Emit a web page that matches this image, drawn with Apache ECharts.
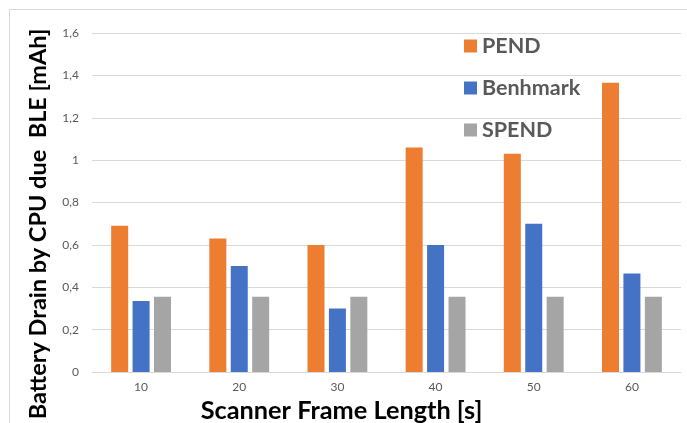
<!DOCTYPE html>
<html>
<head>
<meta charset="utf-8">
<script src="https://cdn.jsdelivr.net/npm/echarts@6/dist/echarts.min.js"></script>
<style>
  html, body { margin: 0; padding: 0; background: #fff; }
  #chart { width: 687px; height: 423px; }
</style>
</head>
<body>
<div id="chart"></div>
<script>
// Scanner frame lengths (s)
const frameLengths = ['10', '20', '30', '40', '50', '60'];
// Battery drain by CPU due to BLE (mAh)
const pendValues = [0.69, 0.63, 0.60, 1.06, 1.03, 1.365];
const benchmarkValues = [0.335, 0.50, 0.30, 0.60, 0.70, 0.465];
const spendValues = [0.355, 0.355, 0.355, 0.355, 0.355, 0.355];
const seriesNames = ['PEND', 'Benhmark', 'SPEND'];
const seriesColors = ['#ED7D31', '#4472C4', '#A5A5A5'];

const chart = echarts.init(document.getElementById('chart'), null, { renderer: 'canvas' });
const font = 'Lato, "Liberation Sans", sans-serif';

const barSeries = [pendValues, benchmarkValues, spendValues].map((vals, i) => ({
  name: seriesNames[i],
  type: 'bar',
  data: vals,
  barWidth: 17,
  barGap: '26%',
  itemStyle: { color: seriesColors[i] }
}));

chart.setOption({
  animation: false,
  backgroundColor: '#ffffff',
  textStyle: { fontFamily: font },
  graphic: [{
    type: 'rect',
    shape: { x: 9.5, y: 9.5, width: 700, height: 430 },
    style: { fill: 'none', stroke: '#d9d9d9', lineWidth: 1 },
    silent: true,
    z: -1
  }],
  grid: { left: 92, right: 6, top: 33, bottom: 51, containLabel: false, outerBoundsMode: 'none' },
  legend: {
    orient: 'vertical',
    left: 459,
    top: 30,
    itemWidth: 13,
    itemHeight: 13,
    itemGap: 20,
    icon: 'rect',
    data: seriesNames,
    textStyle: { fontFamily: font, fontSize: 21.5, fontWeight: 'bold', color: '#595959' }
  },
  xAxis: {
    type: 'category',
    data: frameLengths,
    name: 'Scanner Frame Length [s]',
    nameLocation: 'middle',
    nameGap: 25,
    nameTextStyle: { fontFamily: font, fontSize: 25.3, fontWeight: 'bold', color: '#000', padding: [0, 0, 0, -90] },
    axisLine: { lineStyle: { color: '#d9d9d9', width: 1 } },
    axisTick: { show: false },
    axisLabel: { margin: 9, fontSize: 12, color: '#595959', fontFamily: font }
  },
  yAxis: {
    type: 'value',
    min: 0,
    max: 1.6,
    interval: 0.2,
    name: 'Battery Drain by CPU due  BLE [mAh]',
    nameLocation: 'middle',
    nameGap: 42,
    nameTextStyle: { fontFamily: font, fontSize: 23.5, fontWeight: 'bold', color: '#000', padding: [0, 43, 0, 0] },
    axisLine: { show: false },
    axisTick: { show: false },
    splitLine: { lineStyle: { color: '#d9d9d9', width: 1 } },
    axisLabel: {
      margin: 13,
      fontSize: 12,
      color: '#595959',
      fontFamily: font,
      formatter: v => String(Math.round(v * 10) / 10).replace('.', ',')
    }
  },
  series: barSeries
});
</script>
</body>
</html>
